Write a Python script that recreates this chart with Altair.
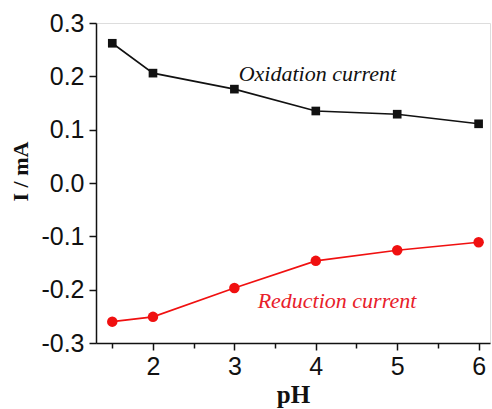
import altair as alt
import pandas as pd

ph = [1.5, 2, 3, 4, 5, 6]
oxidation = [0.262, 0.206, 0.176, 0.135, 0.129, 0.111]
reduction = [-0.260, -0.251, -0.197, -0.146, -0.126, -0.111]

ox_df = pd.DataFrame({"pH": ph, "I": oxidation})
red_df = pd.DataFrame({"pH": ph, "I": reduction})

labels_df = pd.DataFrame({
    "pH": [4.02, 4.26],
    "I": [0.204, -0.222],
    "text": ["Oxidation current", "Reduction current"],
    "color": ["#111111", "#e8202a"],
})

xscale = alt.Scale(domain=[1.3, 6.14], nice=False, zero=False)
yscale = alt.Scale(domain=[-0.3, 0.3], nice=False, zero=False)

xaxis = alt.Axis(
    title="pH", values=[1.5, 2, 2.5, 3, 3.5, 4, 4.5, 5, 5.5, 6],
    labelExpr="datum.value % 1 == 0 ? format(datum.value, 'd') : ''",
    tickSize={"condition": {"test": "datum.value % 1 != 0", "value": 5}, "value": 7},
    grid=False, labelFont="Liberation Sans", labelFontSize=25, labelColor="#111",
    labelPadding=4, titleFont="Liberation Serif", titleFontSize=25, titleFontWeight="bold",
    titleColor="#111", titlePadding=3, domainColor="#111", tickColor="#111",
    domainWidth=1.5, tickWidth=1.5,
)
yaxis = alt.Axis(
    title="I / mA", values=[-0.3, -0.2, -0.1, 0.0, 0.1, 0.2, 0.3],
    labelExpr="(datum.value < -0.001 ? '-' : '') + format(abs(datum.value), '.1f')",
    tickSize=7, grid=False, labelFont="Liberation Sans", labelFontSize=25,
    labelColor="#111", labelPadding=5, titleFont="Liberation Serif", titleFontSize=22,
    titleFontWeight="bold", titleColor="#111", titlePadding=8, titleY=148,
    domainColor="#111", tickColor="#111", domainWidth=1.5, tickWidth=1.5,
)

x = alt.X("pH:Q", scale=xscale, axis=xaxis)
y = alt.Y("I:Q", scale=yscale, axis=yaxis)

ox_line = alt.Chart(ox_df).mark_line(color="#111111", strokeWidth=1.6).encode(x=x, y=y)
ox_pts = alt.Chart(ox_df).mark_point(shape="square", filled=True, color="#111111", size=75, opacity=1).encode(x=x, y=y)
red_line = alt.Chart(red_df).mark_line(color="#f01010", strokeWidth=1.6).encode(x=x, y=y)
red_pts = alt.Chart(red_df).mark_point(shape="circle", filled=True, color="#f01010", size=110, opacity=1).encode(x=x, y=y)

texts = alt.Chart(labels_df).mark_text(
    font="Liberation Serif", fontStyle="italic", fontSize=22, align="center", baseline="middle"
).encode(x=x, y=y, text="text:N", color=alt.Color("color:N", scale=None))

chart = alt.layer(ox_line, ox_pts, red_line, red_pts, texts).properties(
    width=394, height=320,
    autosize=alt.AutoSizeParams(type="none"),
    padding={"left": 96, "top": 23, "right": 2, "bottom": 66},
).configure_view(stroke="#111", strokeWidth=1.5).configure(background="white")

chart.save("out.html", embed_options={"renderer": "svg", "actions": False})
